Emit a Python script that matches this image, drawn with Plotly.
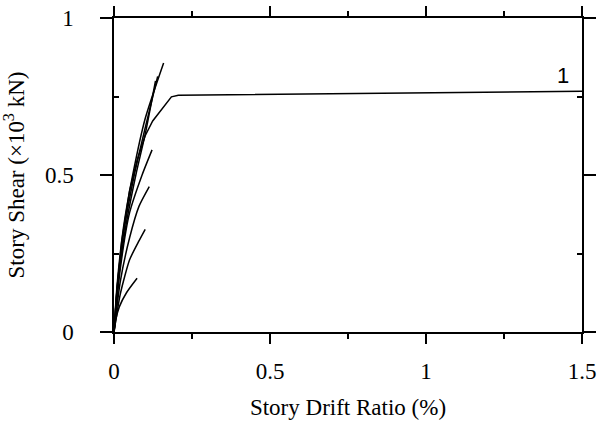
import plotly.graph_objects as go

# Story shear vs. story drift ratio, one backbone per loading stage
drift_a = [0, 0.006, 0.017, 0.04, 0.074]
shear_a = [0, 0.04, 0.08, 0.125, 0.171]

drift_b = [0, 0.02, 0.05, 0.08, 0.100]
shear_b = [0, 0.12, 0.23, 0.29, 0.327]

drift_c = [0, 0.02, 0.05, 0.08, 0.113]
shear_c = [0, 0.16, 0.30, 0.40, 0.463]

drift_d = [0, 0.02, 0.05, 0.09, 0.122]
shear_d = [0, 0.20, 0.38, 0.50, 0.580]

drift_e = [0, 0.01, 0.025, 0.05, 0.075, 0.10, 0.124, 0.184, 0.206, 1.5]
shear_e = [0, 0.14, 0.29, 0.45, 0.55, 0.625, 0.672, 0.749, 0.754, 0.767]

drift_f = [0, 0.01, 0.035, 0.07, 0.10, 0.133]
shear_f = [0, 0.13, 0.32, 0.50, 0.63, 0.800]

drift_g = [0, 0.01, 0.03, 0.065, 0.10, 0.140]
shear_g = [0, 0.14, 0.31, 0.50, 0.65, 0.814]

drift_h = [0, 0.01, 0.03, 0.06, 0.10, 0.159]
shear_h = [0, 0.15, 0.33, 0.50, 0.68, 0.857]

curve_label = "1"
label_pos = (1.44, 0.818)

fig = go.Figure()
curves = [(drift_a, shear_a), (drift_b, shear_b), (drift_c, shear_c),
          (drift_d, shear_d), (drift_f, shear_f), (drift_g, shear_g), (drift_h, shear_h)]
for xs, ys in curves:
    fig.add_trace(go.Scatter(x=xs, y=ys, mode="lines",
                             line=dict(color="black", width=1.5, shape="spline", smoothing=0.6),
                             showlegend=False, hoverinfo="skip"))
# the envelope with a distinct yield corner
fig.add_trace(go.Scatter(x=drift_e, y=shear_e, mode="lines",
                         line=dict(color="black", width=1.5),
                         showlegend=False, hoverinfo="skip"))

fig.add_annotation(x=label_pos[0], y=label_pos[1], text=curve_label, showarrow=False,
                   font=dict(family="Liberation Sans", size=22, color="black"))

serif = "Liberation Serif"
fsize = 23
axis_common = dict(showline=True, linecolor="black", linewidth=1.5, mirror="allticks",
                   ticks="outside", tickwidth=1.5, tickcolor="black",
                   showgrid=False, zeroline=False, automargin=False,
                   tickfont=dict(family=serif, size=fsize, color="black"))

fig.update_xaxes(range=[0, 1.5], tickvals=[0, 0.5, 1, 1.5], ticktext=["0", "0.5", "1", "1.5"],
                 ticklen=10, ticklabelstandoff=8,
                 minor=dict(tickvals=[0.25, 0.75, 1.25], ticks="outside", ticklen=5,
                            tickcolor="black", tickwidth=1.5),
                 title=dict(text="Story Drift Ratio (%)", font=dict(family=serif, size=fsize, color="black"),
                            standoff=16),
                 **axis_common)
fig.update_yaxes(range=[0, 1], tickvals=[0, 0.5, 1], ticktext=["0", "0.5", "1"],
                 ticklen=12, ticklabelstandoff=22,
                 minor=dict(tickvals=[0.25, 0.75], ticks="inside", ticklen=5,
                            tickcolor="black", tickwidth=1.5),
                 title=dict(text="Story Shear (×10<sup>3</sup> kN)", font=dict(family=serif, size=fsize, color="black"),
                            standoff=14),
                 **axis_common)

fig.update_layout(width=597, height=424, margin=dict(l=114, r=15, t=18, b=92),
                  paper_bgcolor="white", plot_bgcolor="white")

fig.write_html("out.html")
